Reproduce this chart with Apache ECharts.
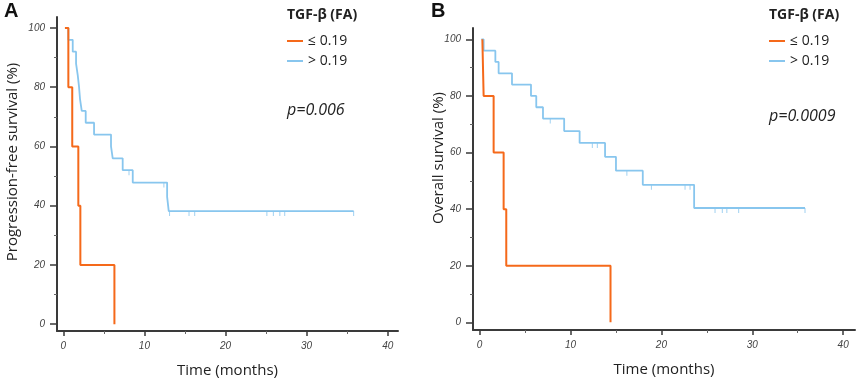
<!DOCTYPE html>
<html>
<head>
<meta charset="utf-8">
<script src="https://cdn.jsdelivr.net/npm/echarts@6/dist/echarts.min.js"></script>
<style>
  html, body { margin: 0; padding: 0; background: #fff; }
  #chart { width: 858px; height: 388px; }
</style>
</head>
<body>
<div id="chart"></div>
<script>
// Kaplan-Meier steps: [months, survival %]
var pfsLow = [[0.2, 100], [0.62, 80], [1.1, 60], [1.85, 40], [2.1, 20], [6.3, 0]]
var pfsHigh = [[0.2, 100], [0.62, 96], [1.16, 92], [1.57, 88], [1.78, 84], [1.94, 80], [2.06, 76],
  [2.27, 72], [2.76, 68], [3.79, 64], [5.88, 60], [6.09, 56], [7.32, 52], [8.56, 47.8],
  [12.8, 43], [13.0, 38.2], [35.8, 38.2]]
var pfsCensor = [[8.1, 52], [12.4, 47.8], [13.1, 38.2], [15.5, 38.2], [16.2, 38.2], [25.1, 38.2],
  [25.9, 38.2], [26.7, 38.2], [27.3, 38.2], [35.8, 38.2]]

var osLow = [[0.3, 100], [0.44, 80], [1.54, 60], [2.64, 40], [2.93, 20], [14.4, 0]]
var osHigh = [[0.19, 100], [0.44, 96], [1.73, 92], [2.09, 88], [3.56, 84], [5.65, 80], [6.23, 76],
  [6.97, 72], [9.3, 67.6], [11.0, 63.4], [13.8, 58.5], [15.0, 53.6], [17.95, 48.6],
  [23.6, 40.4], [35.8, 40.4]]
var osCensor = [[7.77, 72], [12.4, 63.4], [12.95, 63.4], [16.2, 53.6], [18.9, 48.6], [22.6, 48.6],
  [23.15, 48.6], [25.9, 40.4], [26.7, 40.4], [27.2, 40.4], [28.5, 40.4], [35.8, 40.4]]

var xMajor = [0, 10, 20, 30, 40]
var xMinor = [5, 15, 25, 35]
var yMajor = [0, 20, 40, 60, 80, 100]
var yMinor = [10, 30, 50, 70, 90]

var groupNames = ['≤ 0.19', '> 0.19']
var orange = '#F5691A'
var blue = '#88C6EE'
var axisColor = '#3a3a3a'
var font = '"Open Sans", Arial, sans-serif'

var tickLabel = { fontSize: 10, fontStyle: 'italic', color: '#444', fontFamily: 'Arial, sans-serif' }

function xAxes(grid, min, max) {
  return [
    {
      type: 'value', gridIndex: grid, position: 'bottom', min: min, max: max,
      axisLine: { show: true, onZero: false, lineStyle: { color: axisColor, width: 2 } },
      axisTick: { show: true, customValues: xMajor, length: 5, lineStyle: { color: axisColor, width: 1.5 } },
      axisLabel: Object.assign({ customValues: xMajor, margin: 10 }, tickLabel),
      splitLine: { show: false },
      name: 'Time (months)', nameLocation: 'middle', nameGap: 32,
      nameTextStyle: { fontSize: 15, color: '#222', fontFamily: font }
    },
    {
      type: 'value', gridIndex: grid, position: 'bottom', min: min, max: max,
      axisLine: { show: false, onZero: false },
      axisTick: { show: true, customValues: xMinor, length: 3, lineStyle: { color: '#666', width: 1 } },
      axisLabel: { show: false },
      splitLine: { show: false }
    }
  ]
}

function yAxes(grid, min, max) {
  return [
    {
      type: 'value', gridIndex: grid, position: 'left', min: min, max: max,
      axisLine: { show: true, onZero: false, lineStyle: { color: axisColor, width: 2 } },
      axisTick: { show: true, customValues: yMajor, length: 7, lineStyle: { color: axisColor, width: 1.5 } },
      axisLabel: Object.assign({ customValues: yMajor, margin: 12 }, tickLabel),
      splitLine: { show: false }
    },
    {
      type: 'value', gridIndex: grid, position: 'left', min: min, max: max,
      axisLine: { show: false, onZero: false },
      axisTick: { show: true, customValues: yMinor, length: 3, lineStyle: { color: '#666', width: 1 } },
      axisLabel: { show: false },
      splitLine: { show: false }
    }
  ]
}

function curve(name, data, color, width, axis) {
  return {
    name: name, type: 'line', step: 'end', data: data,
    xAxisIndex: axis, yAxisIndex: axis,
    showSymbol: false, symbol: 'none', silent: true,
    itemStyle: { color: color },
    lineStyle: { color: color, width: width }
  }
}

function censor(data, axis) {
  return {
    name: 'censored', type: 'scatter', data: data,
    xAxisIndex: axis, yAxisIndex: axis, silent: true,
    symbol: 'rect', symbolSize: [1, 5], symbolOffset: [0, 2.5],
    itemStyle: { color: blue }
  }
}

function legend(left) {
  return {
    data: groupNames, left: left, top: 34, orient: 'vertical', padding: 0,
    icon: 'rect', itemWidth: 16, itemHeight: 2, itemGap: 6,
    selectedMode: false,
    textStyle: { fontSize: 14, color: '#222', fontFamily: font }
  }
}

var chart = echarts.init(document.getElementById('chart'))
chart.setOption({
  animation: false,
  backgroundColor: '#fff',
  title: [
    { text: 'A', left: 4, top: 1, padding: 0, textStyle: { fontSize: 20, fontWeight: 'bold', color: '#111', fontFamily: 'Arial, sans-serif' } },
    { text: 'B', left: 431, top: 1, padding: 0, textStyle: { fontSize: 20, fontWeight: 'bold', color: '#111', fontFamily: 'Arial, sans-serif' } },
    { text: 'TGF-β (FA)', left: 287, top: 8, padding: 0, textStyle: { fontSize: 14, fontWeight: 'bold', color: '#222', fontFamily: font } },
    { text: 'TGF-β (FA)', left: 769, top: 8, padding: 0, textStyle: { fontSize: 14, fontWeight: 'bold', color: '#222', fontFamily: font } },
    { text: 'p=0.006', left: 287, top: 102, padding: 0, textStyle: { fontSize: 16, fontStyle: 'italic', fontWeight: 'normal', color: '#222', fontFamily: font } },
    { text: 'p=0.0009', left: 769, top: 108, padding: 0, textStyle: { fontSize: 16, fontStyle: 'italic', fontWeight: 'normal', color: '#222', fontFamily: font } }
  ],
  legend: [legend(287), legend(769)],
  grid: [
    { left: 57, right: 460, top: 17, bottom: 57 },
    { left: 473, right: 3, top: 28, bottom: 58 }
  ],
  xAxis: xAxes(0, -0.78, 41.27).concat(xAxes(1, -0.73, 41.3)),
  yAxis: yAxes(0, -2.3, 103.7).concat(yAxes(1, -2.7, 104)),
  graphic: [
    {
      type: 'text', x: 13, y: 162, rotation: Math.PI / 2,
      style: { text: 'Progression-free survival (%)', align: 'center', verticalAlign: 'middle', font: '15px ' + font, fill: '#222' }
    },
    {
      type: 'text', x: 439, y: 158, rotation: Math.PI / 2,
      style: { text: 'Overall survival (%)', align: 'center', verticalAlign: 'middle', font: '15px ' + font, fill: '#222' }
    }
  ],
  series: [
    curve(groupNames[1], pfsHigh, blue, 1.8, 0),
    censor(pfsCensor, 0),
    curve(groupNames[0], pfsLow, orange, 2, 0),
    curve(groupNames[1], osHigh, blue, 1.8, 2),
    censor(osCensor, 2),
    curve(groupNames[0], osLow, orange, 2, 2)
  ]
})
</script>
</body>
</html>
